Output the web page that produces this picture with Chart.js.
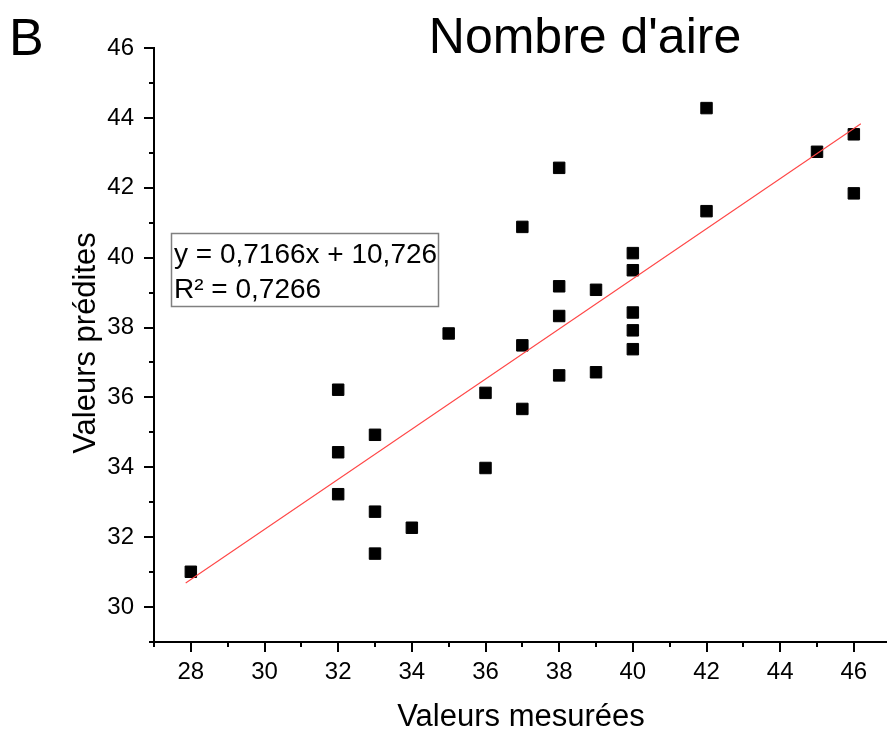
<!DOCTYPE html>
<html>
<head>
<meta charset="utf-8">
<script src="https://cdn.jsdelivr.net/npm/chart.js@4/dist/chart.umd.min.js"></script>
<style>
html, body { margin: 0; padding: 0; background: #fff; }
</style>
</head>
<body>
<canvas id="chart" width="887" height="733"></canvas>
<script>
// Valeurs mesurées (x) et valeurs prédites (y)
var mesurees = [28, 32, 32, 32, 33, 33, 33, 34, 35, 36, 36, 37, 37, 37, 38, 38, 38, 38,
	39, 39, 40, 40, 40, 40, 40, 42, 42, 45, 46, 46];
var predites = [31.01, 36.22, 34.43, 33.23, 34.93, 32.73, 31.53, 32.27, 37.83, 36.13, 33.98,
	40.88, 37.49, 35.67, 42.57, 39.18, 38.33, 36.63, 39.08, 36.72, 40.13, 39.64, 38.43,
	37.92, 37.38, 44.28, 41.33, 43.03, 43.53, 41.84];

// Extremites de la droite de regression
var trendX = [27.86, 46.19];
var trendY = [30.69, 43.83];

// Etiquettes des graduations
var xLabels = [28, 30, 32, 34, 36, 38, 40, 42, 44, 46];
var yLabels = [30, 32, 34, 36, 38, 40, 42, 44, 46];

var titre = "Nombre d'aire";
var titreX = 'Valeurs mesurées';
var titreY = 'Valeurs prédites';
var equation = ['y = 0,7166x + 10,726', 'R² = 0,7266'];
var FONT = '"Liberation Sans", Arial, sans-serif';

var points = mesurees.map(function (x, i) { return {x: x, y: predites[i]}; });
var trend = trendX.map(function (x, i) { return {x: x, y: trendY[i]}; });

//Keeps one tick per whole unit (minor ones get no label)
function wholeTicks(scale) {
	var t = [];
	for (var v = Math.ceil(scale.min); v <= Math.floor(scale.max); v++) {
		t.push({value: v});
	}
	scale.ticks = t;
}

//Draws tick marks, titles and the equation box
var decor = {
	id: 'decor',
	afterDraw: function (chart) {
		var ctx = chart.ctx, xs = chart.scales.x, ys = chart.scales.y;
		ctx.save();
		ctx.strokeStyle = '#000';
		ctx.lineWidth = 2;
		xs.ticks.forEach(function (t) {
			var px = Math.round(xs.getPixelForValue(t.value));
			var len = xLabels.indexOf(t.value) >= 0 ? 10 : 5;
			ctx.beginPath();
			ctx.moveTo(px, xs.top);
			ctx.lineTo(px, xs.top + len);
			ctx.stroke();
		});
		ys.ticks.forEach(function (t) {
			var py = Math.round(ys.getPixelForValue(t.value));
			var len = yLabels.indexOf(t.value) >= 0 ? 10 : 5;
			ctx.beginPath();
			ctx.moveTo(ys.right, py);
			ctx.lineTo(ys.right - len, py);
			ctx.stroke();
		});

		ctx.fillStyle = '#000';
		ctx.textBaseline = 'alphabetic';
		ctx.textAlign = 'left';
		ctx.font = '52px ' + FONT;
		ctx.fillText('B', 9, 55);

		ctx.textAlign = 'center';
		ctx.font = '50px ' + FONT;
		ctx.fillText(titre, 585, 53);

		ctx.font = '31px ' + FONT;
		ctx.fillText(titreX, 521, 726);

		ctx.save();
		ctx.translate(95, 343);
		ctx.rotate(-Math.PI / 2);
		ctx.fillText(titreY, 0, 0);
		ctx.restore();

		//Equation box
		ctx.strokeStyle = '#808080';
		ctx.lineWidth = 1.5;
		ctx.strokeRect(171.5, 233.5, 267, 73);
		ctx.textAlign = 'left';
		ctx.font = '28px ' + FONT;
		ctx.fillText(equation[0], 174, 263);
		ctx.fillText(equation[1], 174, 297.5);
		ctx.restore();
	}
};

var ctx = document.getElementById('chart');
var chart = new Chart(ctx, {
	type: 'scatter',
	data: {
		datasets: [{
			type: 'line',
			data: trend,
			borderColor: 'rgb(255,70,70)',
			borderWidth: 1.1,
			pointRadius: 0,
			fill: false
		}, {
			data: points,
			pointStyle: 'rect',
			pointRadius: 8.1,
			backgroundColor: '#000',
			borderColor: '#000',
			borderWidth: 1
		}]
	},
	options: {
		responsive: false,
		animation: false,
		layout: {autoPadding: false, padding: {top: 48, left: 0, right: 0, bottom: 0}},
		plugins: {
			legend: {display: false},
			tooltip: {enabled: false},
			title: {display: false}
		},
		scales: {
			x: {
				type: 'linear',
				min: 27,
				max: 46.9,
				afterBuildTicks: wholeTicks,
				afterFit: function (scale) {
					scale.height = 91;
					scale.paddingLeft = 0;
					scale.paddingRight = 0;
				},
				border: {display: true, color: '#000', width: 2},
				grid: {display: true, drawOnChartArea: false, drawTicks: true, tickLength: 10, tickColor: 'rgba(0,0,0,0)'},
				ticks: {
					autoSkip: false,
					maxRotation: 0,
					padding: 6,
					color: '#000',
					font: {family: FONT, size: 24},
					callback: function (v) { return xLabels.indexOf(v) >= 0 ? String(v) : ''; }
				}
			},
			y: {
				type: 'linear',
				min: 29,
				max: 46,
				afterBuildTicks: wholeTicks,
				afterFit: function (scale) { scale.width = 154; },
				border: {display: true, color: '#000', width: 2},
				grid: {display: true, drawOnChartArea: false, drawTicks: true, tickLength: 10, tickColor: 'rgba(0,0,0,0)'},
				ticks: {
					autoSkip: false,
					padding: 10,
					color: '#000',
					font: {family: FONT, size: 24},
					callback: function (v) { return yLabels.indexOf(v) >= 0 ? String(v) : ''; }
				}
			}
		}
	},
	plugins: [decor]
});
</script>
</body>
</html>
